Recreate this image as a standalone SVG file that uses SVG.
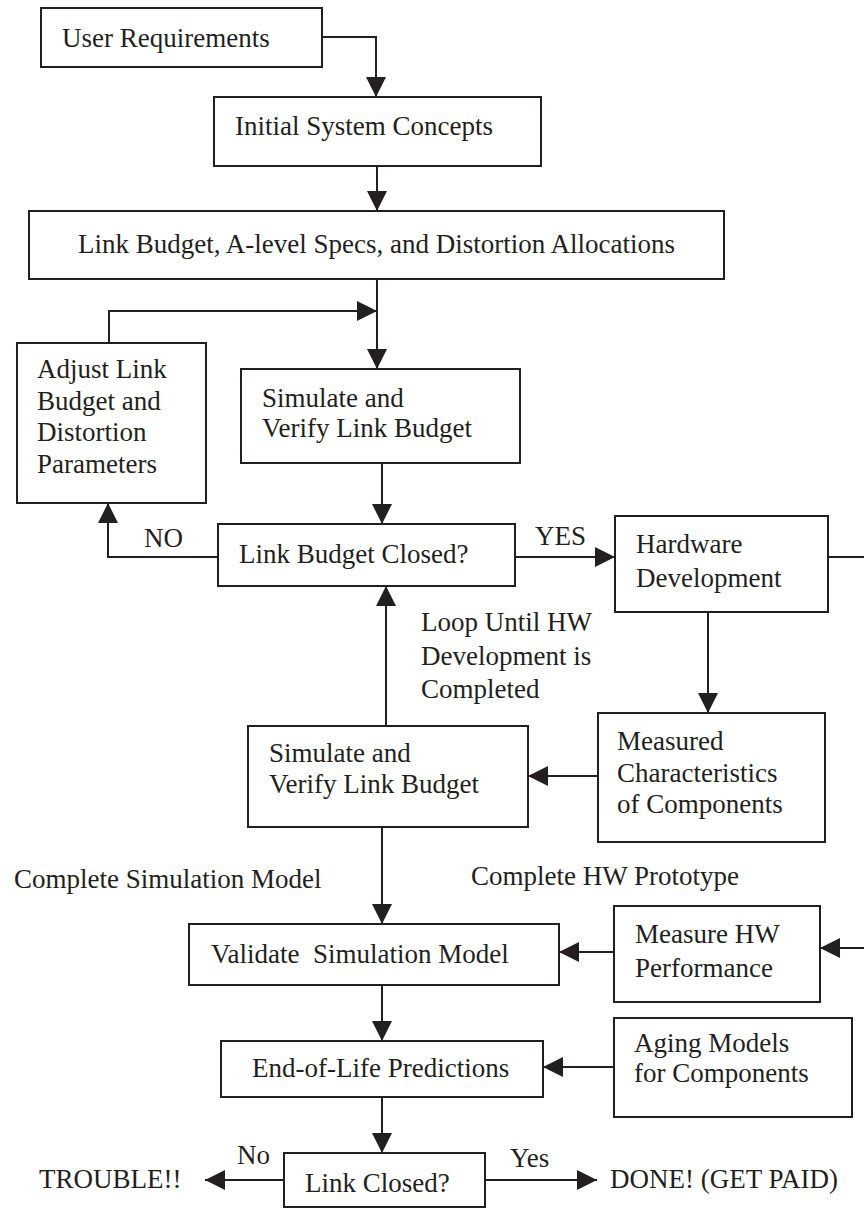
<svg xmlns="http://www.w3.org/2000/svg" width="864" height="1210" viewBox="0 0 864 1210">
<defs>
<style>
.box{fill:#fff;stroke:#231f20;stroke-width:2}
.t{font-family:"Liberation Serif","Times New Roman",serif;font-size:27px;fill:#231f20;white-space:pre}
.c{fill:none;stroke:#231f20;stroke-width:2}
</style>
<marker id="ah" markerUnits="userSpaceOnUse" markerWidth="20" markerHeight="20" refX="20" refY="10" orient="auto" viewBox="0 0 20 20">
<path d="M0,0 L20,10 L0,20 z" fill="#231f20"/>
</marker>
</defs>
<rect width="864" height="1210" fill="#fff"/>
<g id="connectors">
<path class="c" d="M322,37 H376 V97" marker-end="url(#ah)"/>
<path class="c" d="M377,166 V211" marker-end="url(#ah)"/>
<path class="c" d="M377,279 V369" marker-end="url(#ah)"/>
<path class="c" d="M109,343 V311 H377" marker-end="url(#ah)"/>
<path class="c" d="M382,463 V524" marker-end="url(#ah)"/>
<path class="c" d="M218,557 H108 V503" marker-end="url(#ah)"/>
<path class="c" d="M515,557 H615" marker-end="url(#ah)"/>
<path class="c" d="M828,557 H866"/>
<path class="c" d="M708,612 V713" marker-end="url(#ah)"/>
<path class="c" d="M598,776 H528" marker-end="url(#ah)"/>
<path class="c" d="M386,726 V586" marker-end="url(#ah)"/>
<path class="c" d="M382,827 V924" marker-end="url(#ah)"/>
<path class="c" d="M614,952 H559" marker-end="url(#ah)"/>
<path class="c" d="M866,948 H820" marker-end="url(#ah)"/>
<path class="c" d="M382,985 V1041" marker-end="url(#ah)"/>
<path class="c" d="M614,1067 H543" marker-end="url(#ah)"/>
<path class="c" d="M382,1097 V1153" marker-end="url(#ah)"/>
<path class="c" d="M284,1180 H205" marker-end="url(#ah)"/>
<path class="c" d="M485,1180 H597" marker-end="url(#ah)"/>
<text class="t" x="144" y="547">NO</text>
<text class="t" x="535" y="545">YES</text>
<text class="t" x="421" y="631">Loop Until HW</text>
<text class="t" x="421" y="665">Development is</text>
<text class="t" x="421" y="698">Completed</text>
<text class="t" x="14" y="888">Complete Simulation Model</text>
<text class="t" x="471" y="885">Complete HW Prototype</text>
<text class="t" x="237" y="1164">No</text>
<text class="t" x="510" y="1167">Yes</text>
</g>
<g id="user-req"><rect class="box" x="41" y="8" width="281" height="59"/><text class="t" x="62" y="47">User Requirements</text></g>
<g id="initial"><rect class="box" x="214" y="97" width="327" height="69"/><text class="t" x="235" y="135">Initial System Concepts</text></g>
<g id="link-budget"><rect class="box" x="29" y="211" width="695" height="68"/><text class="t" x="78" y="253">Link Budget, A-level Specs, and Distortion Allocations</text></g>
<g id="adjust"><rect class="box" x="17" y="343" width="189" height="160"/><text class="t" x="37" y="378">Adjust Link</text><text class="t" x="37" y="410">Budget and</text><text class="t" x="37" y="441">Distortion</text><text class="t" x="37" y="473">Parameters</text></g>
<g id="simulate1"><rect class="box" x="241" y="369" width="279" height="94"/><text class="t" x="262" y="407">Simulate and</text><text class="t" x="262" y="437">Verify Link Budget</text></g>
<g id="lb-closed"><rect class="box" x="218" y="524" width="297" height="62"/><text class="t" x="239" y="563">Link Budget Closed?</text></g>
<g id="hw-dev"><rect class="box" x="615" y="516" width="213" height="96"/><text class="t" x="636" y="553">Hardware</text><text class="t" x="636" y="587">Development</text></g>
<g id="measured"><rect class="box" x="598" y="713" width="227" height="129"/><text class="t" x="617" y="750">Measured</text><text class="t" x="617" y="782">Characteristics</text><text class="t" x="617" y="813">of Components</text></g>
<g id="simulate2"><rect class="box" x="248" y="726" width="280" height="101"/><text class="t" x="269" y="762">Simulate and</text><text class="t" x="269" y="793">Verify Link Budget</text></g>
<g id="validate"><rect class="box" x="189" y="924" width="370" height="61"/><text class="t" x="211" y="963">Validate  Simulation Model</text></g>
<g id="measure-hw"><rect class="box" x="614" y="906" width="206" height="96"/><text class="t" x="635" y="943">Measure HW</text><text class="t" x="635" y="977">Performance</text></g>
<g id="eol"><rect class="box" x="221" y="1041" width="322" height="56"/><text class="t" x="252" y="1077">End-of-Life Predictions</text></g>
<g id="aging"><rect class="box" x="614" y="1018" width="238" height="99"/><text class="t" x="634" y="1052">Aging Models</text><text class="t" x="634" y="1082">for Components</text></g>
<g id="link-closed"><rect class="box" x="284" y="1153" width="201" height="54"/><text class="t" x="305" y="1192">Link Closed?</text></g>
<g id="trouble"><text class="t" x="39" y="1188">TROUBLE!!</text></g>
<g id="done"><text class="t" x="610" y="1188">DONE! (GET PAID)</text></g>
</svg>
